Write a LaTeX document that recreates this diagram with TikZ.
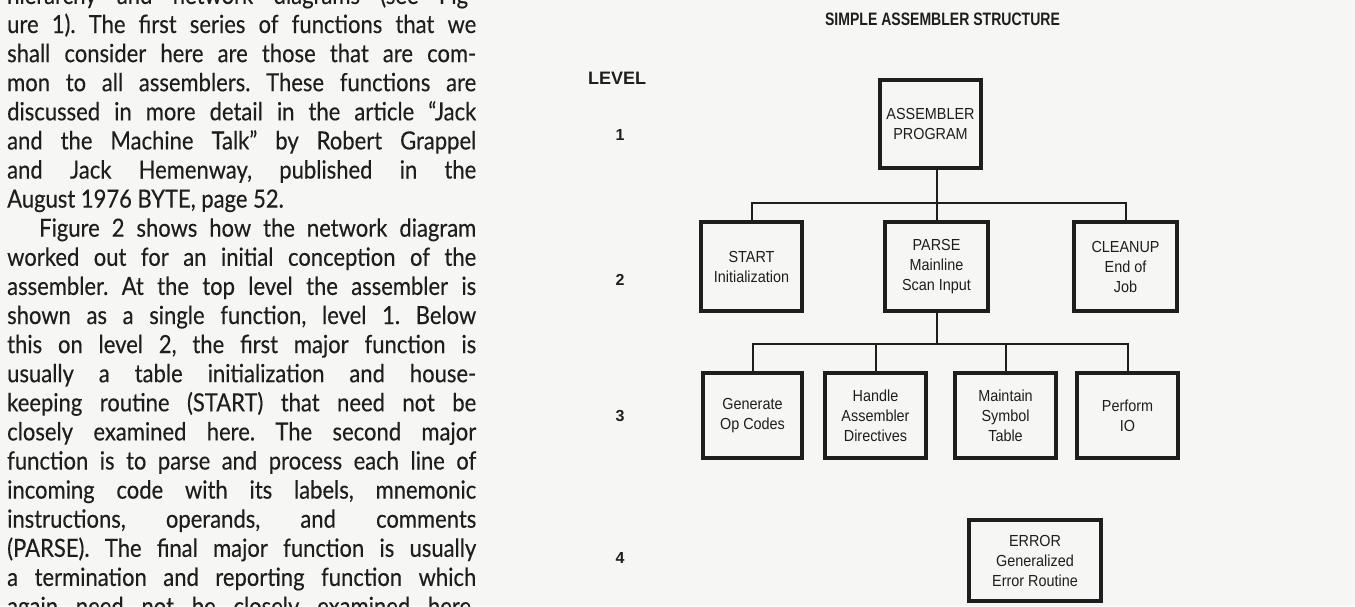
\documentclass[tikz,border=0pt]{standalone}
\usepackage{fontspec}
\newfontfamily\bodyfont[FakeStretch=0.88,FakeBold=0.3]{Lato}
\newfontfamily\diagfont[FakeStretch=0.90]{Liberation Sans}
\newfontfamily\titlefont[FakeStretch=0.78]{Liberation Sans}
\newfontfamily\levelfont{Liberation Sans}
\definecolor{ink}{RGB}{30,30,30}
\definecolor{paper}{RGB}{246,246,244}
\newcommand\jline[2]{\makebox[#1][s]{#2}}
\frenchspacing
\tikzset{
  body/.style={anchor=base west, inner sep=0pt, text=ink, font=\bodyfont\fontsize{25}{29}\selectfont},
  box/.style={draw=ink, line width=4.5pt, align=center, inner sep=0pt, text=ink,
    font=\diagfont\fontsize{16}{20}\selectfont},
  wire/.style={draw=ink, line width=2pt},
  lvl/.style={anchor=base, inner sep=0pt, text=ink, font=\levelfont\bfseries\fontsize{16}{18}\selectfont}
}
\begin{document}
\begin{tikzpicture}[x=1pt,y=-1pt]
\useasboundingbox (0,0) rectangle (1355,606);
\fill[paper] (0,0) rectangle (1355,606);
\clip (0,0) rectangle (1355,606);
% ---- body text ----
\def\cw{469pt}
\node[body] (t0) at (7,3.9) {\jline{\cw}{hierarchy and network diagrams (see Fig-}};
\node[body] (t1) at (7,33.0) {\jline{\cw}{ure 1). The first series of functions that we}};
\node[body] (t2) at (7,62.1) {\jline{\cw}{shall consider here are those that are com-}};
\node[body] (t3) at (7,91.2) {\jline{\cw}{mon to all assemblers. These functions are}};
\node[body] (t4) at (7,120.3) {\jline{\cw}{discussed in more detail in the article “Jack}};
\node[body] (t5) at (7,149.4) {\jline{\cw}{and the Machine Talk” by Robert Grappel}};
\node[body] (t6) at (7,178.5) {\jline{\cw}{and Jack Hemenway, published in the}};
\node[body] (t7) at (7,207.6) {August 1976 BYTE, page 52.};
\node[body] (t8) at (39,236.7) {\jline{437pt}{Figure 2 shows how the network diagram}};
\node[body] (t9) at (7,265.8) {\jline{\cw}{worked out for an initial conception of the}};
\node[body] (t10) at (7,294.9) {\jline{\cw}{assembler. At the top level the assembler is}};
\node[body] (t11) at (7,324.0) {\jline{\cw}{shown as a single function, level 1. Below}};
\node[body] (t12) at (7,353.1) {\jline{\cw}{this on level 2, the first major function is}};
\node[body] (t13) at (7,382.2) {\jline{\cw}{usually a table initialization and house-}};
\node[body] (t14) at (7,411.3) {\jline{\cw}{keeping routine (START) that need not be}};
\node[body] (t15) at (7,440.4) {\jline{\cw}{closely examined here. The second major}};
\node[body] (t16) at (7,469.5) {\jline{\cw}{function is to parse and process each line of}};
\node[body] (t17) at (7,498.6) {\jline{\cw}{incoming code with its labels, mnemonic}};
\node[body] (t18) at (7,527.7) {\jline{\cw}{instructions, operands, and comments}};
\node[body] (t19) at (7,556.8) {\jline{\cw}{(PARSE). The final major function is usually}};
\node[body] (t20) at (7,585.9) {\jline{\cw}{a termination and reporting function which}};
\node[body] (t21) at (7,615.0) {\jline{\cw}{again need not be closely examined here.}};
% ---- title and levels ----
\node[anchor=base, inner sep=0pt, text=ink, font=\titlefont\bfseries\fontsize{18}{20}\selectfont] (title) at (942.5,25) {SIMPLE ASSEMBLER STRUCTURE};
\node[anchor=base, inner sep=0pt, text=ink, font=\levelfont\bfseries\fontsize{18}{20}\selectfont] (level) at (617,84) {LEVEL};
\node[lvl] (l1) at (620,140) {1};
\node[lvl] (l2) at (620,285) {2};
\node[lvl] (l3) at (620,421) {3};
\node[lvl] (l4) at (620,563) {4};
% ---- boxes ----
\node[box, minimum width=101pt, minimum height=88pt] (prog) at (930.5,124) {ASSEMBLER\\PROGRAM};
\node[box, minimum width=101pt, minimum height=89pt] (start) at (751.5,266.5) {START\\Initialization};
\node[box, minimum width=103pt, minimum height=89pt] (parse) at (936.5,266.5) {PARSE\\Mainline\\Scan Input};
\node[box, minimum width=103pt, minimum height=89pt] (cleanup) at (1125.5,266.5) {CLEANUP\\End of\\Job};
\node[box, minimum width=99pt, minimum height=85pt] (gen) at (752.5,415.5) {Generate\\Op Codes};
\node[box, minimum width=101pt, minimum height=85pt] (handle) at (875.5,415.5) {Handle\\Assembler\\Directives};
\node[box, minimum width=101pt, minimum height=85pt] (maint) at (1005.5,415.5) {Maintain\\Symbol\\Table};
\node[box, minimum width=101pt, minimum height=85pt] (perf) at (1127.5,415.5) {Perform\\IO};
\node[box, minimum width=132pt, minimum height=81pt] (err) at (1035,560.5) {ERROR\\Generalized\\Error Routine};
% ---- connectors ----
\coordinate (busA) at (0,203);
\coordinate (busB) at (0,344);
\draw[wire] (prog.south -| parse.north) -- (parse.north);
\draw[wire] (start.north) -- (start.north |- busA) -- (cleanup.north |- busA) -- (cleanup.north);
\draw[wire] (parse.south) -- (parse.south |- busB);
\draw[wire] (gen.north) -- (gen.north |- busB) -- (perf.north |- busB) -- (perf.north);
\draw[wire] (handle.north) -- (handle.north |- busB);
\draw[wire] (maint.north) -- (maint.north |- busB);
\end{tikzpicture}
\end{document}
